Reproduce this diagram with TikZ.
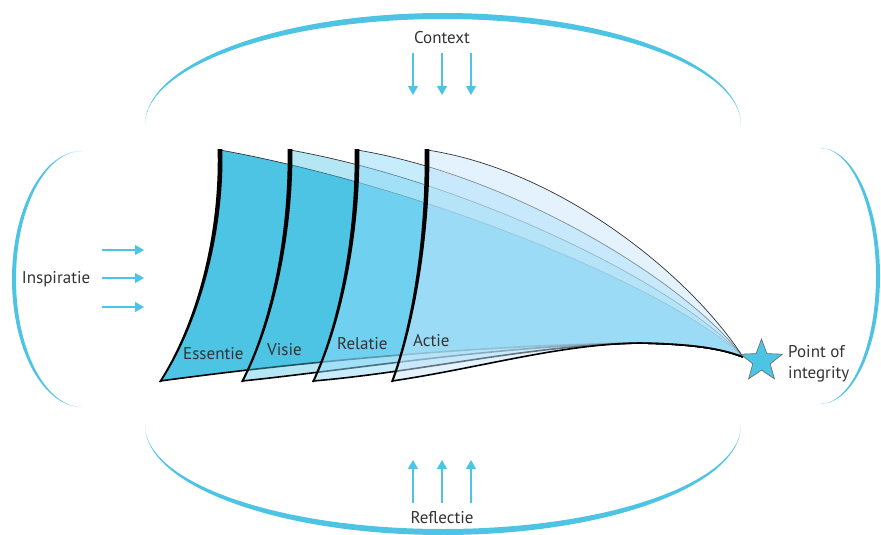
\documentclass[tikz,border=0pt]{standalone}
\usepackage{fontspec}
\setmainfont{PT Sans}
\usetikzlibrary{arrows.meta,shapes.geometric}

\definecolor{cyanline}{RGB}{78,196,228}
\definecolor{sailA}{RGB}{78,196,228}
\definecolor{sailC}{RGB}{144,220,252}
\definecolor{sailD}{RGB}{200,230,250}
\definecolor{txt}{RGB}{51,51,51}

% one translucent sail: #1 fill options, #2 top-left x, #3 bottom-left x,
% #4/#5 controls of the upper edge, #6/#7 controls of the lower edge,
% #8/#9 x of the controls of the leading edge
\newcommand\drawsail[9]{%
  \fill[#1] (#2,150) .. controls #4 and #5 .. (tip)
        .. controls (720,348) and (690,344) .. (K)
        .. controls #7 and #6 .. (#3,381)
        .. controls (#9,320) and (#8,230) .. (#2,150) -- cycle;
  \draw[topedge] (#2,150) .. controls #4 and #5 .. (tip);
  \draw[botedge] (#3,381) .. controls #6 and #7 .. (K)
        .. controls (690,344) and (720,348) .. (tip);
  \fill[black] (#2-2.4,149) .. controls (#8-2.2,230) and (#9-1.3,320) .. (#3-1.1,382)
        -- (#3+1.1,382) .. controls (#9+1.3,320) and (#8+2.2,230) .. (#2+2.4,149) -- cycle;
}

\begin{document}
\begin{tikzpicture}[x=1pt,y=-1pt,
  lbl/.style={font=\fontsize{17}{20}\selectfont, text=txt, inner sep=0pt},
  flow/.style={draw=cyanline, line width=1.3pt, -{Triangle[width=10pt,length=9pt]}},
  rim/.style={fill=cyanline},
  topedge/.style={draw=black!80, line width=0.7pt},
  botedge/.style={draw=black, line width=1.6pt},
  poistar/.style={star, star points=5, star point ratio=2.4, minimum size=44pt,
    inner sep=0pt, fill=cyanline, draw=black!60, line width=0.6pt}]

\useasboundingbox (0,0) rectangle (881,535);

% surrounding rims, thick in the middle and tapering to nothing
\fill[rim] (145,125) arc[start angle=180, end angle=360, x radius=298, y radius=112]
   arc[start angle=0, end angle=-180, x radius=298, y radius=106] -- cycle;
\fill[rim] (145,425) arc[start angle=180, end angle=0, x radius=298, y radius=110]
   arc[start angle=0, end angle=180, x radius=298, y radius=104] -- cycle;
\fill[rim] (82,151) arc[start angle=270, end angle=90, x radius=70, y radius=128]
   arc[start angle=90, end angle=270, x radius=66, y radius=128] -- cycle;
\fill[rim] (820,148) arc[start angle=270, end angle=450, x radius=60, y radius=128]
   arc[start angle=90, end angle=-90, x radius=56, y radius=128] -- cycle;

% sails
\coordinate (tip) at (743,357);
\coordinate (K) at (640,343);
\drawsail{fill=sailA}{220}{160}{(430,188)}{(675,290)}{(300,362)}{(480,345)}{222}{200}
\drawsail{fill=sailA, fill opacity=0.42}{290}{242}{(470,182)}{(680,285)}{(350,370)}{(500,345)}{291}{274}
\drawsail{fill=sailC, fill opacity=0.5}{357}{313}{(510,175)}{(685,280)}{(420,372)}{(530,345)}{358}{342}
\drawsail{fill=sailD, fill opacity=0.5}{427}{392}{(560,170)}{(690,275)}{(480,368)}{(560,344)}{428}{415}

\node[lbl, anchor=base west] (essentie) at (183,359) {Essentie};
\node[lbl, anchor=base west] (visie) at (267,355) {Visie};
\node[lbl, anchor=base west] (relatie) at (337,349) {Relatie};
\node[lbl, anchor=base west] (actie) at (413,346) {Actie};

% point of integrity
\node[poistar] (poi) at (761.5,361) {};
\node[lbl, anchor=base west] (poi1) at (788,357) {Point of};
\node[lbl, anchor=base west] (poi2) at (788,378) {integrity};

% context
\node[lbl, anchor=base] (context) at (442,43.5) {Context};
\coordinate (ca1) at (413,53);  \coordinate (cb1) at (413,95);
\coordinate (ca2) at (442,53);  \coordinate (cb2) at (442,95);
\coordinate (ca3) at (471,53);  \coordinate (cb3) at (471,95);
\draw[flow] (ca1) -- (cb1);
\draw[flow] (ca2) -- (cb2);
\draw[flow] (ca3) -- (cb3);

% reflectie
\node[lbl, anchor=base] (reflectie) at (442,523) {Reflectie};
\coordinate (ra1) at (413,503); \coordinate (rb1) at (413,460);
\coordinate (ra2) at (442,503); \coordinate (rb2) at (442,460);
\coordinate (ra3) at (471,503); \coordinate (rb3) at (471,460);
\draw[flow] (ra1) -- (rb1);
\draw[flow] (ra2) -- (rb2);
\draw[flow] (ra3) -- (rb3);

% inspiratie
\node[lbl, anchor=base west] (inspiratie) at (21.7,283) {Inspiratie};
\coordinate (ia1) at (102,250); \coordinate (ib1) at (144,250);
\coordinate (ia2) at (102,278); \coordinate (ib2) at (144,278);
\coordinate (ia3) at (102,307); \coordinate (ib3) at (144,307);
\draw[flow] (ia1) -- (ib1);
\draw[flow] (ia2) -- (ib2);
\draw[flow] (ia3) -- (ib3);
\end{tikzpicture}
\end{document}
